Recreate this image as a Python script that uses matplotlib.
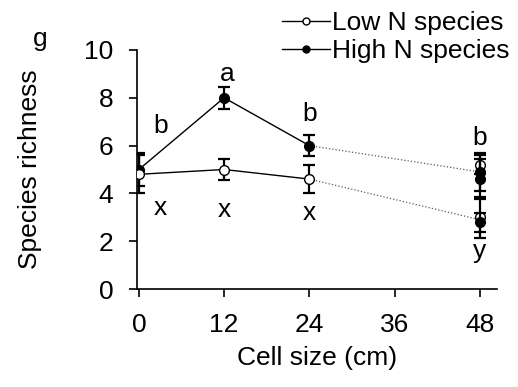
import matplotlib
matplotlib.use('Agg')
import matplotlib.pyplot as plt
from matplotlib.lines import Line2D

plt.rcParams['font.family'] = ['Liberation Sans', 'DejaVu Sans']
FONT_SIZE = 19

# main series (cell sizes 0, 12, 24)
cell_size = [0, 12, 24]
low_n = [4.8, 5.0, 4.6]
low_n_err = [0.8, 0.45, 0.6]
high_n = [5.0, 8.0, 6.0]
high_n_err = [0.7, 0.45, 0.43]

# replicate points at 48 cm
low_48 = [5.2, 3.0]
low_48_err = [0.4, 0.85]
high_48 = [4.9, 4.6, 2.8]
high_48_err = [0.8, 0.85, 0.4]
low_48_end = 2.9
high_48_end = 4.9

# significance letters (x, y, text)
letters_x = [3, 12.5, 24, 48, 3, 12, 24, 48]
letters_y = [6.8, 9.0, 7.3, 6.3, 3.4, 3.3, 3.2, 1.6]
letters = ['b', 'a', 'b', 'b', 'x', 'x', 'x', 'y']

fig = plt.figure(figsize=(5.18, 3.87), dpi=100)
ax = fig.add_axes([0.264, 0.253, 0.695, 0.618])

# dotted links to the 48 cm replicates
ax.plot([24, 48], [high_n[2], high_48_end], ':', color='0.35', lw=0.9, zorder=1)
ax.plot([24, 48], [low_n[2], low_48_end], ':', color='0.35', lw=0.9, zorder=1)

ax.errorbar(cell_size, high_n, yerr=high_n_err, fmt='-o', color='black', lw=1,
            elinewidth=1.6, capsize=4, capthick=1.6, ms=7, mfc='black', mec='black', zorder=3)
ax.errorbar(cell_size, low_n, yerr=low_n_err, fmt='-o', color='black', lw=1,
            elinewidth=1.6, capsize=4, capthick=1.6, ms=7, mfc='white', mec='black', zorder=3)

ax.errorbar([48] * len(low_48), low_48, yerr=low_48_err, fmt='o', color='black',
            elinewidth=1.6, capsize=4, capthick=1.6, ms=7, mfc='white', mec='black', zorder=3)
ax.errorbar([48] * len(high_48), high_48, yerr=high_48_err, fmt='o', color='black',
            elinewidth=1.6, capsize=4, capthick=1.6, ms=7, mfc='black', mec='black', zorder=4)

for x, y, t in zip(letters_x, letters_y, letters):
    ax.text(x, y, t, ha='center', va='center', fontsize=FONT_SIZE)

ax.set_xlim(-0.3, 50.4)
ax.set_ylim(0, 10)
ax.set_xticks([0, 12, 24, 36, 48])
ax.set_yticks([0, 2, 4, 6, 8, 10])
ax.tick_params(labelsize=FONT_SIZE, length=6, width=1.2, direction='out', pad=11)
for s in ['top', 'right']:
    ax.spines[s].set_visible(False)
for s in ['left', 'bottom']:
    ax.spines[s].set_linewidth(1.2)

ax.set_xlabel('Cell size (cm)', fontsize=FONT_SIZE)
ax.set_ylabel('Species richness', fontsize=FONT_SIZE)
ax.xaxis.set_label_coords(0.5, -0.24)
ax.yaxis.set_label_coords(-0.262, 0.5)

fig.text(0.078, 0.9, 'g', fontsize=FONT_SIZE, ha='center', va='center')

handles = [
    Line2D([], [], color='black', lw=1, marker='o', ms=5, mfc='white', mec='black'),
    Line2D([], [], color='black', lw=1, marker='o', ms=5, mfc='black', mec='black'),
]
fig.legend(handles, ['Low N species', 'High N species'], loc='upper right',
           bbox_to_anchor=(1.025, 1.025), frameon=False, fontsize=FONT_SIZE,
           handlelength=1.8, handletextpad=0.1, labelspacing=0.15, borderpad=0.3)

fig.savefig('out.png', dpi=100)
